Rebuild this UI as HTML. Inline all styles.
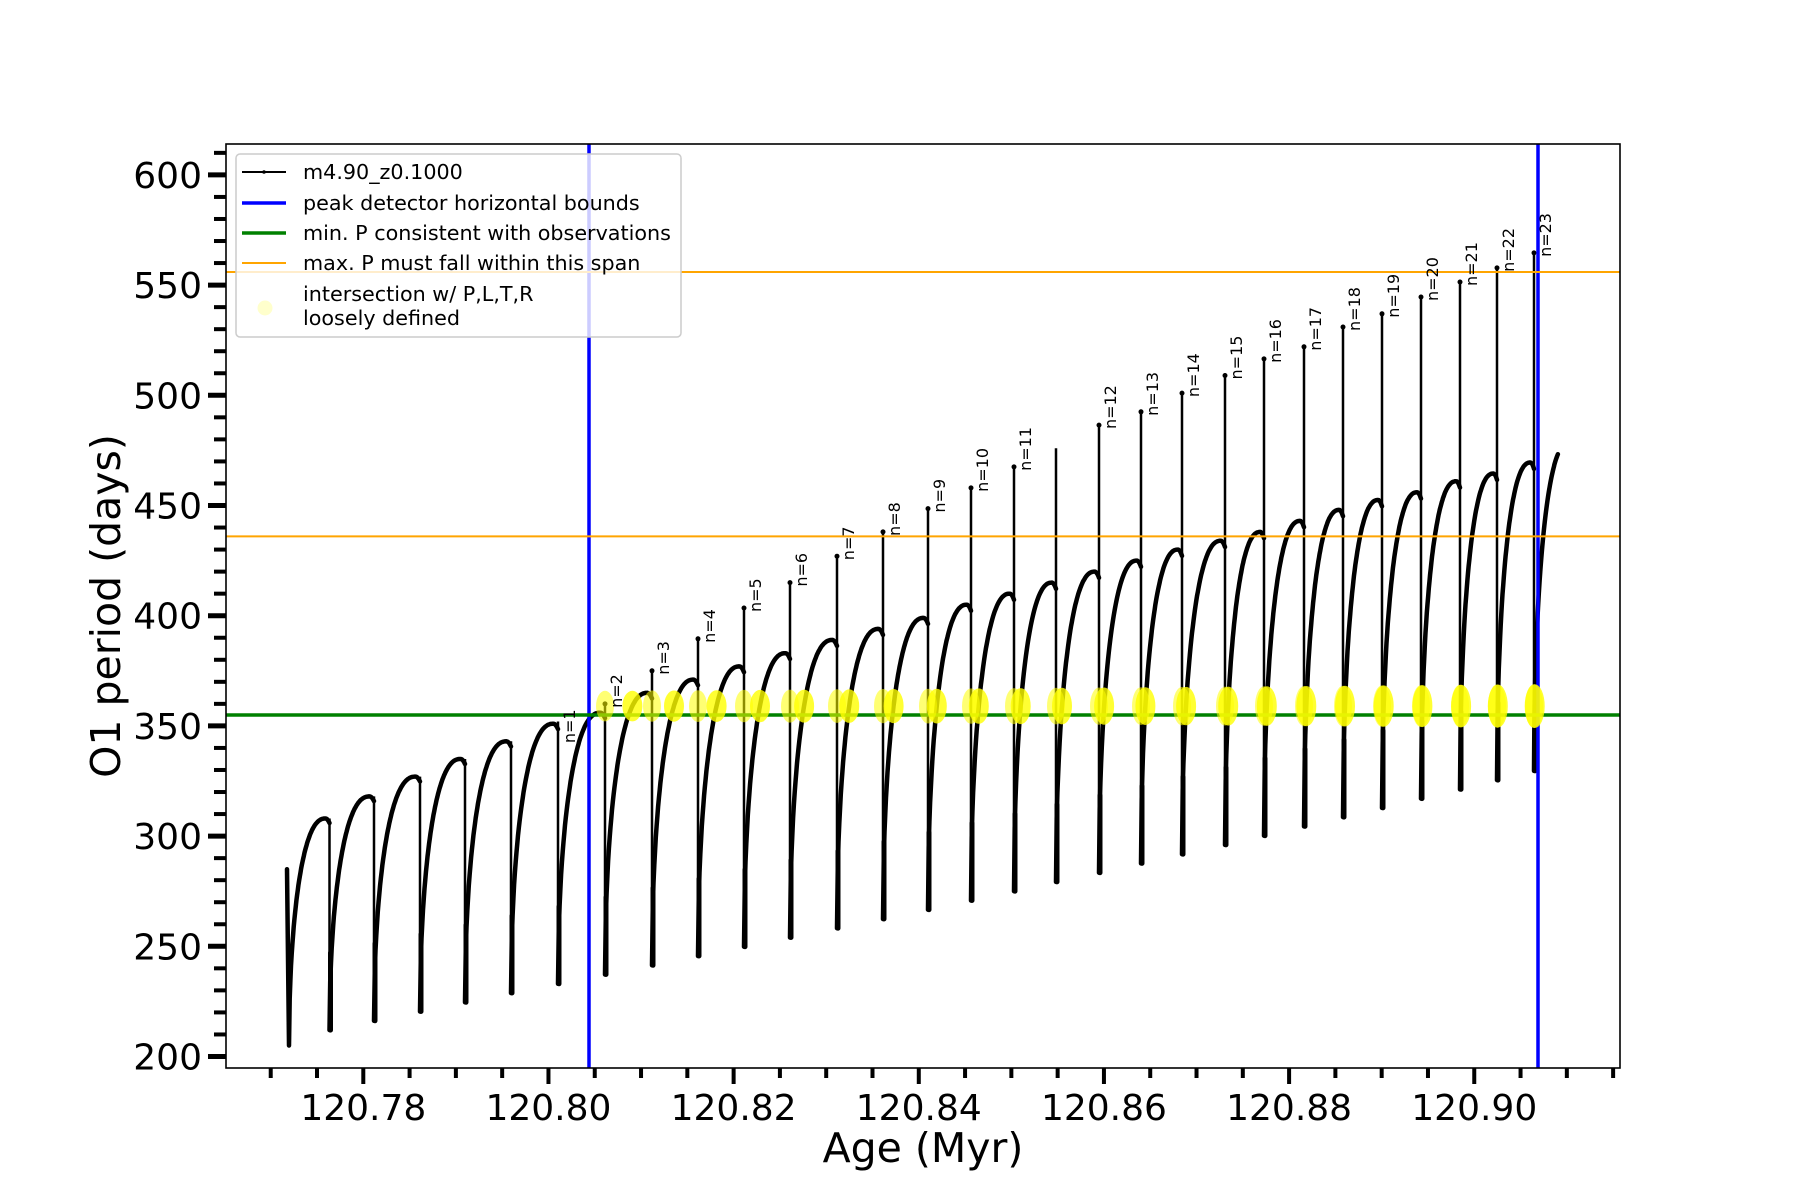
<!DOCTYPE html>
<html><head><meta charset="utf-8">
<style>html,body{margin:0;padding:0;background:#fff}svg{display:block}</style>
</head><body>
<svg id="s" xmlns="http://www.w3.org/2000/svg" width="1800" height="1200" viewBox="0 0 1800 1200" font-family="DejaVu Sans, Liberation Sans, sans-serif">
<rect width="1800" height="1200" fill="#fff"/>
<g id="data"></g>
<line x1="589" y1="144" x2="589" y2="1068" stroke="#0000ff" stroke-width="3.5"/>
<line x1="1538" y1="144" x2="1538" y2="1068" stroke="#0000ff" stroke-width="3.5"/>
<line x1="226" y1="715" x2="1620" y2="715" stroke="#008000" stroke-width="3.5"/>
<line x1="226" y1="272" x2="1620" y2="272" stroke="#ffa500" stroke-width="2"/>
<line x1="226" y1="536.4" x2="1620" y2="536.4" stroke="#ffa500" stroke-width="2"/>
<g id="blobs"></g>
<g id="labels" font-size="16" fill="#000"></g>
<rect x="226" y="144" width="1394" height="924" fill="none" stroke="#000" stroke-width="1.6"/>
<g id="ticks"></g>
<text x="923" y="1162" font-size="41" text-anchor="middle">Age (Myr)</text>
<text transform="translate(120,606) rotate(-90)" font-size="41" text-anchor="middle">O1 period (days)</text>
<rect x="236" y="154" width="445" height="183" rx="4" fill="#fff" fill-opacity="0.8" stroke="#ccc" stroke-width="1.5"/>
<g font-size="20.7" fill="#000">
<line x1="242" y1="172" x2="286" y2="172" stroke="#000" stroke-width="2"/>
<circle cx="264" cy="172" r="1.8" fill="#000"/>
<text x="303" y="179">m4.90_z0.1000</text>
<line x1="242" y1="203" x2="286" y2="203" stroke="#0000ff" stroke-width="3.5"/>
<text x="303" y="210">peak detector horizontal bounds</text>
<line x1="242" y1="233" x2="286" y2="233" stroke="#008000" stroke-width="3.5"/>
<text x="303" y="240">min. P consistent with observations</text>
<line x1="242" y1="263" x2="286" y2="263" stroke="#ffa500" stroke-width="2"/>
<text x="303" y="270">max. P must fall within this span</text>
<circle cx="265" cy="308" r="7.5" fill="#ffff00" fill-opacity="0.2"/>
<text x="303" y="301">intersection w/ P,L,T,R</text>
<text x="303" y="325">loosely defined</text>
</g>
</svg>
<script>
(function(){
var NS="http://www.w3.org/2000/svg";
function y(p){return 1056.5-(p-200)*2.204;}
function X(v){return 363.3+(v-120.78)*9258;}
var xs=[329.5,374,420,465,511,558,605,652,698,744,790,837,883,928,971,1014,1056,1099,1141,1182,1225,1264,1304,1343,1382,1421,1460,1497,1534];
var mx=[308,318,327,335,343,351,356,365,371,377,383,389,394,399,405,410,415,420,425,430,434,438,443,448,452.5,456,461,464.5,469.5];
var sp=[352,360,375,389.5,403.5,415,427,438,448.6,458,467.5,476,486.5,492.5,501,509,516.5,522,531,537,544.6,551.4,557.8,564.6];
function mn(i){return 212+4.2*i;}
var d=document.getElementById('data'),bl=document.getElementById('blobs'),lb=document.getElementById('labels'),tk=document.getElementById('ticks');
function el(tag,attrs,parent){var e=document.createElementNS(NS,tag);for(var k in attrs)e.setAttribute(k,attrs[k]);parent.appendChild(e);return e;}
function f(t){var tt=Math.min(t/0.9,1);var v=Math.sqrt(Math.max(0,1-Math.pow(1-tt,2.3)));if(t>0.9){var u=(t-0.9)/0.1;v=1-0.02*u*u;}return v;}
function rise(x0,x1,p0,p1,tmax){var s="M"+x0+" "+y(p0).toFixed(1);var N=60;for(var k=1;k<=N;k++){var t=k/N*(tmax||1);s+=" L"+(x0+t*(x1-x0)).toFixed(1)+" "+y(p0+(p1-p0)*f(t)).toFixed(1);}return s;}
function cross(x0,x1,p0,p1,pt){for(var k=0;k<=400;k++){var t=k/400;if(p0+(p1-p0)*f(t)>=pt)return x0+t*(x1-x0);}return null;}
var curves="M287 "+y(285).toFixed(1)+" L289 "+y(205).toFixed(1)+" "+rise(289,xs[0],205,mx[0]).replace(/^M[^L]*/,'');
var verts="",thick="";
for(var i=0;i<xs.length;i++){
  var x=xs[i];var top=mx[i];
  if(i>=5){top=Math.max(sp[i-5],mx[i]);}
  var m=mn(i);
  verts+="M"+x+" "+y(top).toFixed(1)+" L"+x+" "+y(m).toFixed(1)+" ";
  thick+="M"+(x+1)+" "+y(m).toFixed(1)+" L"+(x+1)+" "+y(m+35).toFixed(1)+" ";
  if(i<xs.length-1){curves+=" "+rise(x,xs[i+1],m,mx[i+1]);}
  else{curves+=" "+rise(x,x+38,m,478,0.63);}
}
el('path',{d:curves,fill:'none',stroke:'#000','stroke-width':4.5,'stroke-linejoin':'round','stroke-linecap':'round'},d);
el('path',{d:verts,fill:'none',stroke:'#000','stroke-width':2.5},d);
el('path',{d:thick,fill:'none',stroke:'#000','stroke-width':5,'stroke-linecap':'round'},d);
for(var i=5;i<xs.length;i++){
  var m=mn(i);var x0=xs[i];var x1=(i<xs.length-1)?xs[i+1]:x0+38;var p1=(i<xs.length-1)?mx[i+1]:478;
  var rr=15+(i-5)*0.3;
  var cx=cross(x0,x1,m,p1,359);
  if(cx!==null){el('ellipse',{cx:cx.toFixed(1),cy:y(359).toFixed(1),rx:10,ry:rr,fill:'#ffff00','fill-opacity':0.8},bl);}
  if(i>=6){el('ellipse',{cx:x0,cy:y(359).toFixed(1),rx:9,ry:rr,fill:'#ffff00','fill-opacity':0.55},bl);}
}
var n=1;
for(var i=5;i<xs.length;i++){
  if(i===16)continue;
  var top=(i===5)?344:sp[i-5];
  var lx=xs[i]+17,ly=y(top)+4;
  var t=el('text',{x:lx,y:ly,transform:'rotate(-90 '+lx+' '+ly+')'},lb);t.textContent='n='+n;n++;
  if(i>5)el('circle',{cx:xs[i],cy:y(top).toFixed(1),r:2.5,fill:'#000'},d);
}
for(var p=200;p<=610;p+=10){
  var yy=y(p);var major=(p%50===0);
  el('line',{x1:major?208:214,y1:yy,x2:226,y2:yy,stroke:'#000','stroke-width':major?5:4},tk);
  if(major){var t=el('text',{x:202,y:yy+13,'font-size':36,'text-anchor':'end'},tk);t.textContent=p;}
}
for(var k=0;k<=29;k++){
  var v=120.77+k*0.005;var xx=X(v);if(xx<227||xx>1619)continue;
  var major=(k%4===2);
  el('line',{x1:xx,y1:1068,x2:xx,y2:major?1084:1078,stroke:'#000','stroke-width':4},tk);
  if(major){var t=el('text',{x:xx,y:1120,'font-size':36,'text-anchor':'middle'},tk);t.textContent=v.toFixed(2);}
}
})();
</script>
</body></html>
